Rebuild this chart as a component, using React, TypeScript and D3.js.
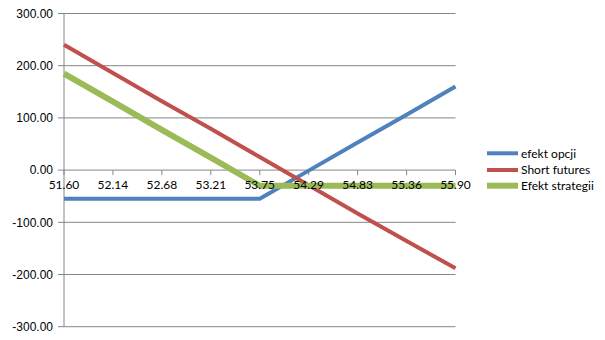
import React from "react";
import * as d3 from "d3";

const categories = ["51.60", "52.14", "52.68", "53.21", "53.75", "54.29", "54.83", "55.36", "55.90"];
const efektOpcji = [-55, -55, -55, -55, -55, -1, 53, 106, 160];
const shortFutures = [240, 186, 132, 79, 25, -29, -83, -136, -188];
const efektStrategii = [185, 131, 77, 24, -30, -30, -30, -30, -30];
const yTicks = [300, 200, 100, 0, -100, -200, -300];
const seriesNames = ["efekt opcji", "Short futures", "Efekt strategii"];

const W = 605;
const H = 340;

export default function App() {
  const x = d3.scalePoint<string>().domain(categories).range([64, 455.5]);
  const y = d3.scaleLinear().domain([-300, 300]).range([326.7, 13.5]);
  const line = d3
    .line<number>()
    .x((_, i) => x(categories[i]) as number)
    .y((d) => y(d));

  const series = [
    { name: seriesNames[0], data: efektOpcji, color: "#4F81BD", width: 4 },
    { name: seriesNames[1], data: shortFutures, color: "#C0504D", width: 4 },
    { name: seriesNames[2], data: efektStrategii, color: "#9BBB59", width: 6 },
  ];
  const y0 = y(0);
  const legendY = [153.3, 170, 185.7];

  return (
    <svg
      width={W}
      height={H}
      style={{ position: "absolute", left: 0, top: 0, background: "#fff" }}
    >
      {yTicks.map((t) => (
        <g key={t}>
          <line x1={58} x2={455.5} y1={y(t)} y2={y(t)} stroke="#868686" strokeWidth={1} />
          <text
            x={53}
            y={y(t)}
            dy="0.35em"
            textAnchor="end"
            fontFamily="Liberation Sans, Arial, sans-serif"
            fontSize={12}
            fill="#000"
          >
            {t.toFixed(2)}
          </text>
        </g>
      ))}
      <line x1={64} x2={64} y1={y(300)} y2={y(-300)} stroke="#868686" strokeWidth={1} />
      {categories.map((c) => (
        <line
          key={"t" + c}
          x1={x(c)}
          x2={x(c)}
          y1={y0}
          y2={y0 + 5}
          stroke="#868686"
          strokeWidth={1}
        />
      ))}
      {series.map((s) => (
        <path
          key={s.name}
          d={line(s.data) || ""}
          fill="none"
          stroke={s.color}
          strokeWidth={s.width}
          strokeLinejoin="round"
        />
      ))}
      {categories.map((c) => (
        <text
          key={"l" + c}
          x={x(c)}
          y={y0 + 15}
          dy="0.35em"
          textAnchor="middle"
          fontFamily="Lato, sans-serif"
          fontSize={12}
          fill="#000"
        >
          {c}
        </text>
      ))}
      {series.map((s, i) => (
        <g key={"lg" + s.name}>
          <line
            x1={487}
            x2={518}
            y1={legendY[i]}
            y2={legendY[i]}
            stroke={s.color}
            strokeWidth={s.width}
          />
          <text
            x={521}
            y={legendY[i]}
            dy="0.35em"
            fontFamily="Lato, sans-serif"
            fontSize={12}
            fill="#000"
          >
            {s.name}
          </text>
        </g>
      ))}
    </svg>
  );
}
